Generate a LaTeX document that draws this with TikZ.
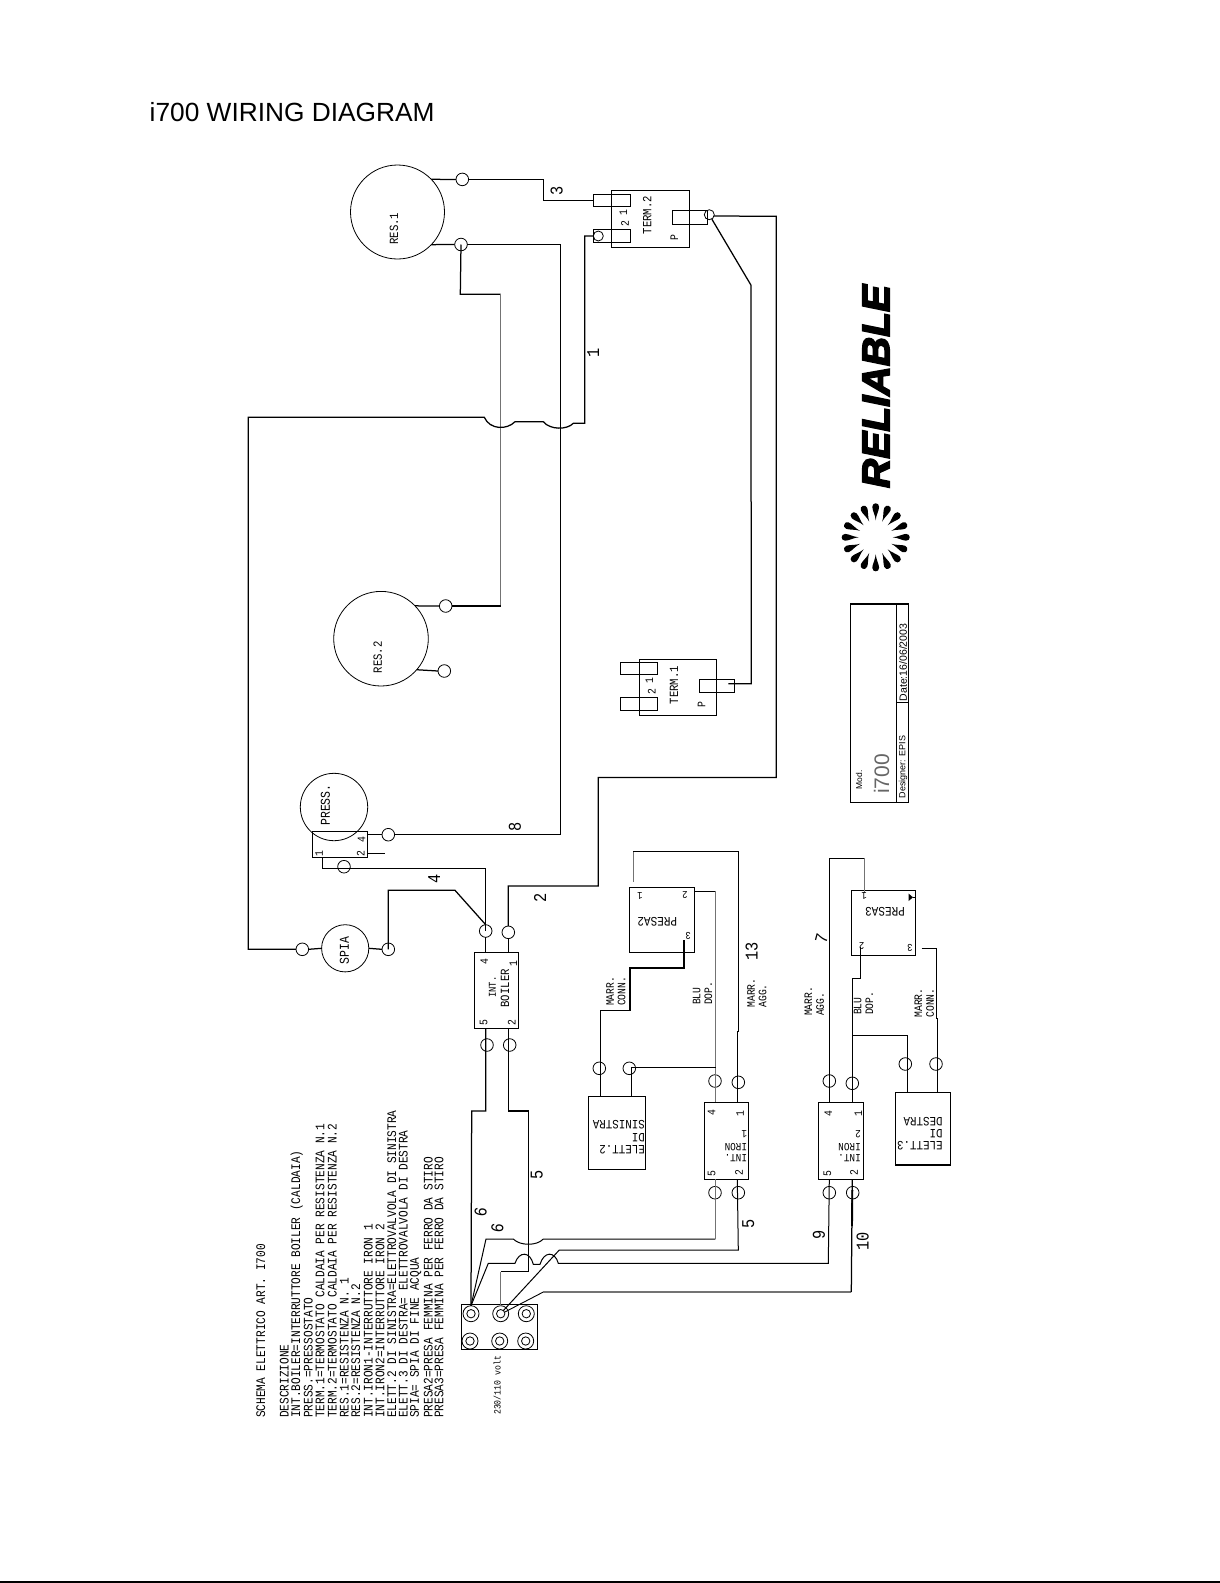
\documentclass[tikz,border=0pt]{standalone}
\usepackage{fontspec}
\setmainfont{Liberation Sans}
\newfontfamily\cad[FakeStretch=0.85]{Liberation Mono}
\newfontfamily\logofont[FakeBold=4,FakeStretch=1.05]{Liberation Sans Bold Italic}
\newcounter{lb}
\newcommand{\tx}[4]{\stepcounter{lb}\node[#1] (lb\arabic{lb}) at (#2,#3) {#4};}
\newcommand{\bx}[5]{\node[partbox,minimum width={(#4-#2)*1pt},minimum height={(#5-#3)*1pt}] (#1) at ({(#2+#4)/2},{(#3+#5)/2}) {};}
\newcommand{\pn}[3]{\node[pinc] (#1) at (#2,#3) {};}
\tikzset{
  wire/.style={draw=black,line width=1.25pt,line join=miter},
  gwire/.style={draw=black!55,line width=1.2pt},
  partbox/.style={draw=black,line width=1.15pt,inner sep=0pt,outer sep=0pt,rectangle},
  pinc/.style={circle,draw=black,line width=.8pt,inner sep=0pt,outer sep=0pt,minimum size=12.6pt},
  round/.style={circle,draw=black,line width=.8pt,inner sep=0pt,outer sep=0pt},
  vt/.style={rotate=90,inner sep=0pt,font=\cad\fontsize{12.5}{12.5}\selectfont},
  vs/.style={rotate=90,inner sep=0pt,font=\cad\fontsize{10.5}{10.5}\selectfont},
  vl/.style={rotate=90,anchor=west,inner sep=0pt,font=\cad\fontsize{13.1}{13.1}\selectfont},
  ml/.style={rotate=90,anchor=west,inner sep=0pt,font=\cad\fontsize{11.4}{11.4}\selectfont},
  ut/.style={rotate=180,anchor=west,inner sep=0pt,font=\cad\fontsize{12.7}{12.7}\selectfont},
  ui/.style={rotate=180,anchor=west,inner sep=0pt,font=\cad\fontsize{11}{11}\selectfont},
  ud/.style={rotate=180,inner sep=0pt,font=\cad\fontsize{13}{13}\selectfont},
  us/.style={rotate=180,inner sep=0pt,font=\cad\fontsize{10.5}{10.5}\selectfont},
  dg/.style={rotate=90,inner sep=0pt,font=\cad\fontsize{11.5}{11.5}\selectfont},
  wn/.style={rotate=90,inner sep=0pt,font=\cad\fontsize{18}{18}\selectfont},
}
\begin{document}
\begin{tikzpicture}[x=1pt,y=-1pt]
\useasboundingbox (0,0) rectangle (1220,1583);
\fill[white] (0,0) rectangle (1220,1583);
\fill[black] (0,1581) rectangle (1220,1583);
\node[anchor=base west,inner sep=0pt,font=\fontsize{26.3}{26.3}\selectfont] (title) at (149.5,121) {i700 WIRING DIAGRAM};

% round parts
\node[round,minimum size=94pt] (res1) at (397.5,212) {};
\node[round,minimum size=94.6pt] (res2) at (381,638.7) {};
\node[round,minimum size=67.4pt] (press) at (334,807) {};
\node[round,minimum size=47.2pt] (spia) at (345.2,948.3) {};
\tx{vt}{394}{228.7}{RES.1}
\tx{vt}{377.7}{657.3}{RES.2}
\tx{vt,font=\cad\fontsize{13.5}{13.5}\selectfont}{325.3}{805}{PRESS.}
\tx{vt,font=\cad\fontsize{13.5}{13.5}\selectfont}{344.3}{950.7}{SPIA}

% boxes
\bx{term2}{611.7}{190.7}{689.3}{247.3}
\bx{t2a}{593.3}{194.3}{630.3}{206.3}
\bx{t2b}{593.3}{229.3}{630.3}{242.3}
\bx{t2p}{672.3}{210.3}{707.7}{224.3}
\bx{term1}{639.3}{659.3}{716.7}{715.3}
\bx{t1a}{620.3}{662.3}{657.7}{674.7}
\bx{t1b}{620.3}{697.3}{657.7}{710.7}
\bx{t1p}{699.3}{679.3}{734.7}{692.7}
\bx{pbox}{312.3}{831.3}{367.3}{857.3}
\bx{boiler}{474.7}{952.7}{518.7}{1028.3}
\bx{presa2}{629.3}{887.3}{694.7}{952.3}
\bx{presa3}{851.3}{890.3}{915.7}{955.3}
\bx{elett2}{588.3}{1096.7}{645.7}{1169.3}
\bx{elett3}{895.3}{1092.3}{950.3}{1165}
\bx{iron1}{704.3}{1102.3}{748.7}{1179.3}
\bx{iron2}{818.3}{1102.3}{863.7}{1179.3}
\bx{strip}{461.7}{1304.3}{537.7}{1349.3}

% pins
\pn{ra}{462.3}{179.4}
\pn{rb}{461}{244.5}
\pn{rc}{445.7}{606}
\pn{rd}{444.3}{671}
\node[pinc,minimum size=10pt] (tpa) at (598.3,236) {};
\node[pinc,minimum size=10pt] (tpb) at (709.3,214.7) {};
\pn{pa}{388.3}{834.7}
\pn{pb}{344}{866.7}
\pn{sa}{302.3}{949.3}
\pn{sb}{388.3}{949.3}
\pn{ba}{485.7}{931}
\pn{bb}{508.3}{932.3}
\pn{bc}{487}{1045}
\pn{bd}{509.7}{1045}
\pn{ea}{599.3}{1068.3}
\pn{eb}{629.3}{1068.3}
\pn{ia}{715}{1081}
\pn{ib}{738.3}{1082.3}
\pn{ic}{715}{1192.7}
\pn{id}{738.3}{1192.7}
\pn{ja}{829.3}{1081}
\pn{jb}{852.3}{1083.3}
\pn{jc}{829.3}{1192.7}
\pn{jd}{852.7}{1192.7}
\pn{ka}{905.3}{1064}
\pn{kb}{936}{1064}

% mains strip
\foreach \n/\x/\y in {a/471/1313.7,b/500.7/1313.7,c/526.3/1313.7,d/470/1341,e/499.7/1341,f/525.7/1341}{
  \node[pinc,minimum size=16pt] (m\n) at (\x,\y) {};
  \node[pinc,minimum size=8.4pt] (mi\n) at (\x,\y) {};
}

% wires, upper part
\draw[wire] (res1.44) -- (ra.west);
\draw[wire] (ra.east) -- (543.3,179.4) -- (543.3,200.3) -- (t2a.west);
\draw[wire] (res1.-44) -- (rb.west);
\draw[wire] (rb.east) -- (560.7,244.5) -- (560.7,834.7) -- (pa.east);
\draw[wire] (pa.west) -- (pbox.east |- pa);
\draw[wire] (rb.center) -- (460.3,294.3) -- (500.7,294.3);
\draw[gwire] (500.7,294.3) -- (500.7,606);
\draw[wire] (500.7,606) -- (rc.east);
\draw[wire] (rc.west) -- (res2.44);
\draw[wire] (rd.west) -- (res2.-41);
\draw[wire] (tpa.west) -- (584.7,236) -- (584.7,423.3) -- (573.3,423.3)
  .. controls (567,430) and (550,430) .. (543.3,421.7) -- (515,421.7)
  .. controls (507,430) and (490,430) .. (484.3,417.3) -- (248.3,417.3)
  -- (248.3,949.3) -- (sa.west);
\draw[wire] (sa.east) -- (spia.west);
\draw[wire] (spia.east) -- (sb.west);
\draw[wire] (tpb.-15) -- (776.3,216.3) -- (776.3,777.5) -- (598.3,777.5) -- (598.3,886) -- (508.3,886) -- (bb.north);
\draw[wire] (bb.south) -- (bb |- boiler.north);
\draw[wire] (tpb.-60) -- (750.9,285) -- (751.3,683.7) -- (728.3,683.7);
\draw[wire] (sb.center) -- (388.3,890.3) -- (455,890.3) -- (ba.north);
\draw[wire] (ba.south) -- (ba |- boiler.north);
\draw[wire] (322.7,857.3) -- (322.7,868.3) -- (485.7,868.3) -- (ba.center);
\draw[wire] (pbox.east |- 0,853.3) -- (385,853.3);

% wires, boiler to strip
\draw[wire] (485.7,1028.3) -- (485.7,1111) -- (471.7,1111) -- (ma.north);
\draw[wire] (508.3,1028.3) -- (508.3,1111) -- (528.3,1111) -- (528.3,1271.7) -- (500.7,1271.7);
\draw[gwire] (500.7,1271.7) -- (mb.north);
% strip to switches
\draw[wire,line width=1pt] (ma.north) -- (486,1239) -- (513.3,1239)
  .. controls (520,1246) and (537,1246) .. (543.3,1239) -- (715.3,1239);
\draw[gwire] (715.3,1239) -- (715.3,1179.3);
\draw[wire,line width=1pt] (ma.north) -- (488.3,1263.3) -- (515,1263.3)
  .. controls (519,1251) and (530,1251) .. (533.3,1264.3) -- (540,1264.3)
  .. controls (544,1251) and (555,1251) .. (558.3,1263.3) -- (828.3,1263.3) -- (829.3,1179.3);
\draw[wire,line width=1pt] (mib.50) -- (559.3,1250) -- (738.3,1250) -- (737.3,1179.3);
\draw[wire,line width=.9pt] (mib.22) -- (543.3,1292);
\draw[gwire] (543.3,1292) -- (851.3,1292);
\draw[wire] (851.3,1292) -- (852.3,1179.3);
\draw[line width=1.9pt] (852.3,1190) -- (852,1226);

% wires, PRESA2 and ELETT.2
\draw[gwire] (633.3,881.7) -- (633.3,851.3);
\draw[wire] (633.3,851.3) -- (738.3,851.3) -- (738.3,1031.7) -- (737.3,1031.7) -- (737.3,1102.3);
\draw[wire] (presa2.east |- 0,891.3) -- (715.7,891.3);
\draw[gwire] (715.7,891.3) -- (715.7,1102.3);
\draw[wire] (684,940) -- (684,968) -- (630,968) -- (630,1010.3) -- (600.7,1010.3) -- (600.7,1096.7);
\draw[wire] (631.3,1096.7) -- (631.3,1067.3) -- (715.7,1067.3);

% wires, PRESA3 and ELETT.3
\draw[gwire] (864.3,893.3) -- (864.3,858.3);
\draw[wire] (864.3,858.3) -- (829.3,858.3) -- (829.3,1102.3);
\draw[wire] (860.7,946.7) -- (860.7,978.3) -- (852.7,978.3) -- (852.7,1102.3);
\draw[wire] (852.7,1035.3) -- (907.3,1035.3) -- (907.3,1092.3);
\draw[wire] (921.7,948.3) -- (936.7,948.3) -- (936.7,1018.3) -- (937.7,1018.3) -- (937.7,1092.3);
\fill[black] (908.6,893.6) -- (913,897.3) -- (908.6,901) -- cycle;
\draw[line width=.8pt] (913,897.3) -- (presa3.east |- 0,897.3);

% part labels
\tx{vt}{647.3}{215}{TERM.2}
\tx{dg}{623.3}{212.3}{1}
\tx{dg}{625}{223.3}{2}
\tx{dg}{674.3}{237.3}{P}
\tx{vt}{674}{685}{TERM.1}
\tx{dg}{649.3}{681}{1}
\tx{dg}{651.7}{691.7}{2}
\tx{dg}{701.7}{705}{P}
\tx{dg}{361.7}{840}{4}
\tx{dg}{360.7}{854}{2}
\tx{dg}{319}{853.3}{1}
\tx{dg}{484.3}{961.7}{4}
\tx{dg}{513.3}{963.3}{1}
\tx{dg}{483.7}{1023}{5}
\tx{dg}{511.7}{1022.3}{2}
\tx{vs}{492.3}{987}{INT.}
\tx{vt}{505}{988.3}{BOILER}
\tx{dg}{711.7}{1112.7}{4}
\tx{dg}{740}{1114}{1}
\tx{dg}{711.7}{1173.3}{5}
\tx{dg}{739}{1172.3}{2}
\tx{ui}{747.3}{1158.3}{INT.}
\tx{ui}{747.3}{1146.7}{IRON}
\tx{ui}{747.3}{1134}{1}
\tx{dg}{828.3}{1113.3}{4}
\tx{dg}{858.3}{1114}{1}
\tx{dg}{827.3}{1173.3}{5}
\tx{dg}{854}{1172.3}{2}
\tx{ui}{861}{1158.3}{INT.}
\tx{ui}{861}{1146.7}{IRON}
\tx{ui}{861}{1134}{2}
\tx{ut}{645}{1150}{ELETT.2}
\tx{ut}{645}{1137.3}{DI}
\tx{ut}{645}{1125}{SINISTRA}
\tx{ut}{942.7}{1145.7}{ELETT.3}
\tx{ut}{942.7}{1133.3}{DI}
\tx{ut}{942.7}{1121.7}{DESTRA}
\tx{ud}{657.3}{921.7}{PRESA2}
\tx{us}{640}{895.7}{1}
\tx{us}{685}{895}{2}
\tx{us}{688.3}{936}{3}
\tx{ud}{885}{911.7}{PRESA3}
\tx{us}{864.3}{895.7}{1}
\tx{us}{861.7}{946}{2}
\tx{us}{910}{948.3}{3}

% wire numbers
\tx{wn}{556.7}{191}{3}
\tx{wn}{593.3}{353.3}{1}
\tx{wn}{515}{826.7}{8}
\tx{wn}{434.3}{879}{4}
\tx{wn}{540}{897.7}{2}
\tx{wn}{536.7}{1175}{5}
\tx{wn,rotate=-8}{480.7}{1212.3}{6}
\tx{wn,rotate=-8}{497.3}{1228.3}{6}
\tx{wn}{748.3}{1224.3}{5}
\tx{wn}{819}{1235}{9}
\tx{wn}{862.7}{1241.7}{10}
\tx{wn}{751.7}{951.7}{13}
\tx{wn,rotate=-15}{821.7}{938.3}{7}

% wire colour notes
\tx{ml}{610}{1006}{MARR.}
\tx{ml}{621.7}{1006}{CONN.}
\tx{ml}{696.7}{1005}{BLU}
\tx{ml}{708.3}{1005}{DOP.}
\tx{ml}{751}{1007.7}{MARR.}
\tx{ml}{762.7}{1007.7}{AGG.}
\tx{ml}{808.3}{1016}{MARR.}
\tx{ml}{820}{1016}{AGG.}
\tx{ml}{857.7}{1015}{BLU}
\tx{ml}{869.3}{1015}{DOP.}
\tx{ml}{918.3}{1017.7}{MARR.}
\tx{ml}{930}{1017.7}{CONN.}
\tx{ml,font=\cad\fontsize{9.6}{9.6}\selectfont}{497.3}{1415}{230/110 volt}

% legend
\tx{vl}{260.7}{1418}{SCHEMA ELETTRICO ART. I700}
\tx{vl}{284.3}{1418}{DESCRIZIONE}
\tx{vl}{296.7}{1418}{INT.BOILER=INTERRUTTORE BOILER (CALDAIA)}
\tx{vl}{308.3}{1418}{PRESS.=PRESSOSTATO}
\tx{vl}{320}{1418}{TERM.1=TERMOSTATO CALDAIA PER RESISTENZA N.1}
\tx{vl}{332.3}{1418}{TERM.2=TERMOSTATO CALDAIA PER RESISTENZA N.2}
\tx{vl}{344.3}{1418}{RES.1=RESISTENZA N. 1}
\tx{vl}{355.7}{1418}{RES.2=RESISTENZA N.2}
\tx{vl}{368.3}{1418}{INT.IRON1-INTERRUTTORE IRON 1}
\tx{vl}{380}{1418}{INT.IRON2=INTERRUTTORE IRON 2}
\tx{vl}{391.7}{1418}{ELETT.2 DI SINISTRA=ELETTROVALVOLA DI SINISTRA}
\tx{vl}{403.3}{1418}{ELETT.3 DI DESTRA= ELETTROVALVOLA DI DESTRA}
\tx{vl}{415.7}{1418}{SPIA= SPIA DI FINE ACQUA}
\tx{vl}{428.3}{1418}{PRESA2=PRESA FEMMINA PER FERRO DA STIRO}
\tx{vl}{439}{1418}{PRESA3=PRESA FEMMINA PER FERRO DA STIRO}

% logo
\node[rotate=90,inner sep=0pt,text=black,font=\logofont\fontsize{38.7}{38.7}\selectfont] (logo) at (876,386.5) {RELIABLE};
\begin{scope}[shift={(875.7,537.3)}]
\foreach \a in {0,22.5,...,337.5}{
  \fill[black,rotate=\a] (0,-17) .. controls (-.3,-22) and (-3.4,-27) .. (-3.4,-30.5)
    .. controls (-3.4,-33) and (-1.6,-34) .. (0,-34)
    .. controls (1.6,-34) and (3.4,-33) .. (3.4,-30.5)
    .. controls (3.4,-27) and (.3,-22) .. (0,-17) -- cycle;
}
\end{scope}

% title block
\bx{block}{850.7}{604}{908.7}{802.3}
\draw[line width=.9pt] (896.7,604) -- (896.7,802.3);
\draw[line width=.9pt] (896.7,702.7) -- (908.7,702.7);
\node[rotate=90,anchor=west,inner sep=0pt,font=\fontsize{8.5}{8.5}\selectfont] (bmod) at (859,789.5) {Mod.};
\node[rotate=90,anchor=west,inner sep=0pt,text=black!60,font=\fontsize{21}{21}\selectfont] (bi) at (881.7,794) {i700};
\node[rotate=90,anchor=west,inner sep=0pt,font=\fontsize{9}{9}\selectfont] (bdes) at (903,798.5) {Designer: EPIS};
\node[rotate=90,anchor=west,inner sep=0pt,font=\fontsize{10.5}{10.5}\selectfont] (bdat) at (903,701.5) {Date:16/06/2003};
\end{tikzpicture}
\end{document}
